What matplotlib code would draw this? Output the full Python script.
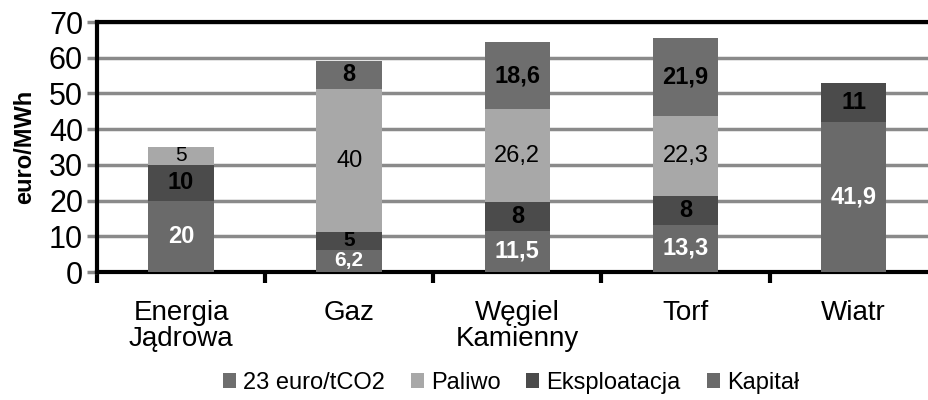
import numpy as np
import matplotlib
matplotlib.use("Agg")
import matplotlib.pyplot as plt
from matplotlib.ticker import FixedLocator

plt.rcParams['font.family'] = ['Liberation Sans', 'DejaVu Sans']

categories = ["Energia\nJądrowa", "Gaz", "Węgiel\nKamienny", "Torf", "Wiatr"]
kapital = [20, 6.2, 11.5, 13.3, 41.9]
eksploatacja = [10, 5, 8, 8, 11]
paliwo = [5, 40, 26.2, 22.3, 0]
co2 = [0, 8, 18.6, 21.9, 0]

# bottom to top, with label style for each segment
series = [
    ("Kapitał", kapital, "#6a6a6a", "white", "bold"),
    ("Eksploatacja", eksploatacja, "#4b4b4b", "black", "bold"),
    ("Paliwo", paliwo, "#a8a8a8", "black", "normal"),
    ("23 euro/tCO2", co2, "#6e6e6e", "black", "bold"),
]

fig = plt.figure(figsize=(9.29, 4.0), dpi=100)
ax = fig.add_axes([0.1044, 0.32, 0.905, 0.625])

x = np.arange(len(categories))
bottom = np.zeros(len(categories))
handles = {}
for name, vals, col, tcol, tw in series:
    vals = np.array(vals, dtype=float)
    b = ax.bar(x, vals, width=0.39, bottom=bottom, color=col, zorder=3)
    handles[name] = b
    for xi, v, b0 in zip(x, vals, bottom):
        if v > 0:
            # thin segments: keep the label inside its own strip
            fs = 15 if v < 7 else 17
            ax.text(xi, b0 + v / 2, f"{v:g}".replace(".", ","), ha="center",
                    va="center", color=tcol, fontsize=fs, fontweight=tw,
                    zorder=4)
    bottom += vals

ax.set_xlim(-0.5, len(categories) - 0.5)
ax.set_ylim(0, 70)
ax.set_yticks(range(0, 71, 10))
ax.yaxis.grid(True, color="#8a8a8a", linewidth=2.5, zorder=0)
ax.tick_params(axis="y", labelsize=22, color="#8a8a8a", width=2.5, length=7,
               pad=3)

ax.set_xticks(x)
ax.set_xticklabels(categories, fontsize=20, linespacing=1.0)
ax.xaxis.set_minor_locator(FixedLocator(np.arange(-0.5, len(categories), 1)))
ax.tick_params(axis="x", which="major", length=0, pad=20)
ax.tick_params(axis="x", which="minor", length=8, width=3, color="black")

for s in ["left", "bottom", "top"]:
    ax.spines[s].set_linewidth(3)
    ax.spines[s].set_color("black")
ax.spines["right"].set_visible(False)

ax.set_ylabel("euro/MWh", fontsize=17, fontweight="bold")
ax.yaxis.set_label_coords(-0.072, 0.5)

order = ["23 euro/tCO2", "Paliwo", "Eksploatacja", "Kapitał"]
fig.legend([handles[n] for n in order], order, loc="center",
           bbox_to_anchor=(0.55, 0.043), ncol=4, frameon=False, fontsize=17,
           handlelength=0.55, handleheight=0.55, handletextpad=0.3,
           columnspacing=1.1)

fig.savefig("out.png", dpi=100)
